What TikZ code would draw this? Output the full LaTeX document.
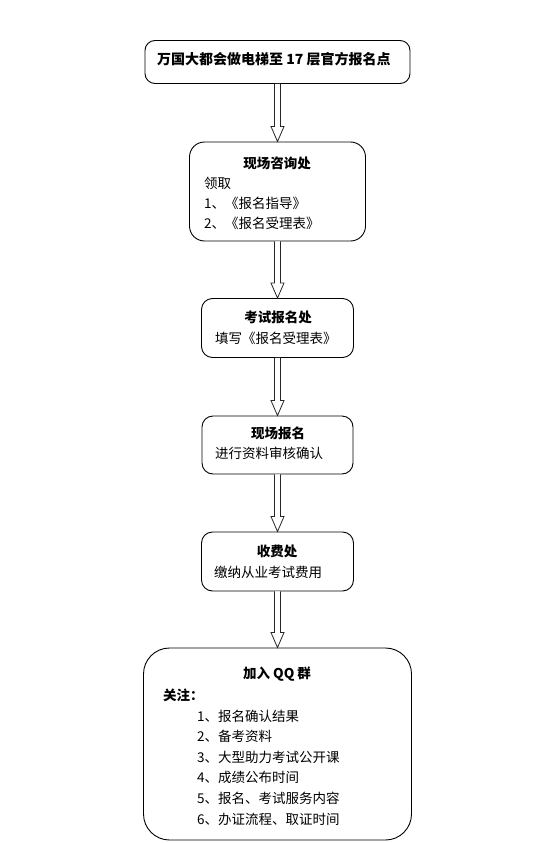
\documentclass[tikz,border=0pt]{standalone}
\usepackage{fontspec}
\setmainfont{Noto Sans CJK SC}
\usetikzlibrary{calc}
\tikzset{
  box/.style={draw=black, line width=0.9pt, fill=white, inner sep=0pt},
  ttl/.style={font=\fontsize{13.5}{16}\selectfont\bfseries, inner sep=0pt},
  txt/.style={font=\fontsize{13.5}{16}\selectfont, inner sep=0pt, anchor=west},
  harrow/.style={draw=black!85, line width=0.8pt, fill=white, line join=miter,
    to path={let \p1=(\tikztostart), \p2=(\tikztotarget) in
      (\x1-3,\y1) -- (\x1-3,\y2+15) -- (\x1-6.5,\y2+15) -- (\x2,\y2)
      -- (\x1+6.5,\y2+15) -- (\x1+3,\y2+15) -- (\x1+3,\y1)}}
}
\begin{document}
\begin{tikzpicture}[x=1pt,y=-1pt]
\useasboundingbox (0,0) rectangle (554,843);
\fill[white] (0,0) rectangle (554,843);
% boxes
\node[box, rounded corners=10pt, minimum width=265pt, minimum height=43pt] (b1) at (277.5,62) {};
\node[box, rounded corners=15pt, minimum width=176pt, minimum height=99pt] (b2) at (277.5,191.5) {};
\node[box, rounded corners=11pt, minimum width=152pt, minimum height=59pt] (b3) at (277.5,328) {};
\node[box, rounded corners=11pt, minimum width=151pt, minimum height=58pt] (b4) at (277.5,445) {};
\node[box, rounded corners=11pt, minimum width=152pt, minimum height=59pt] (b5) at (277.5,561.5) {};
\node[box, rounded corners=26pt, minimum width=268pt, minimum height=192pt] (b6) at (277.5,744) {};
% arrows
\path[harrow] (b1.south) to (b2.north);
\path[harrow] (b2.south) to (b3.north);
\path[harrow] (b3.south) to (b4.north);
\path[harrow] (b4.south) to (b5.north);
\path[harrow] (b5.south) to (b6.north);
% texts
\node[txt, font=\fontsize{14}{16}\selectfont\bfseries] (t1) at (157,59) {万国大都会做电梯至 17 层官方报名点};
\node[ttl] (t2) at (277,163) {现场咨询处};
\node[txt] (t2a) at (204,183) {领取};
\node[txt] (t2b) at (204,203) {1、《报名指导》};
\node[txt] (t2c) at (204,223.5) {2、《报名受理表》};
\node[ttl] (t3) at (278,317) {考试报名处};
\node[txt] (t3a) at (215,338) {填写《报名受理表》};
\node[ttl] (t4) at (278,433.5) {现场报名};
\node[txt] (t4a) at (215,453.5) {进行资料审核确认};
\node[ttl] (t5) at (277,551.5) {收费处};
\node[txt] (t5a) at (214,572) {缴纳从业考试费用};
\node[ttl] (t6) at (277,674.5) {加入 QQ 群};
\node[txt, font=\fontsize{13.5}{16}\selectfont\bfseries] (t6a) at (163,695) {关注：};
\node[txt] (t6b) at (197,716) {1、报名确认结果};
\node[txt] (t6c) at (197,736.6) {2、备考资料};
\node[txt] (t6d) at (197,757.2) {3、大型助力考试公开课};
\node[txt] (t6e) at (197,777.8) {4、成绩公布时间};
\node[txt] (t6f) at (197,798.4) {5、报名、考试服务内容};
\node[txt] (t6g) at (197,819) {6、办证流程、取证时间};
\end{tikzpicture}
\end{document}
